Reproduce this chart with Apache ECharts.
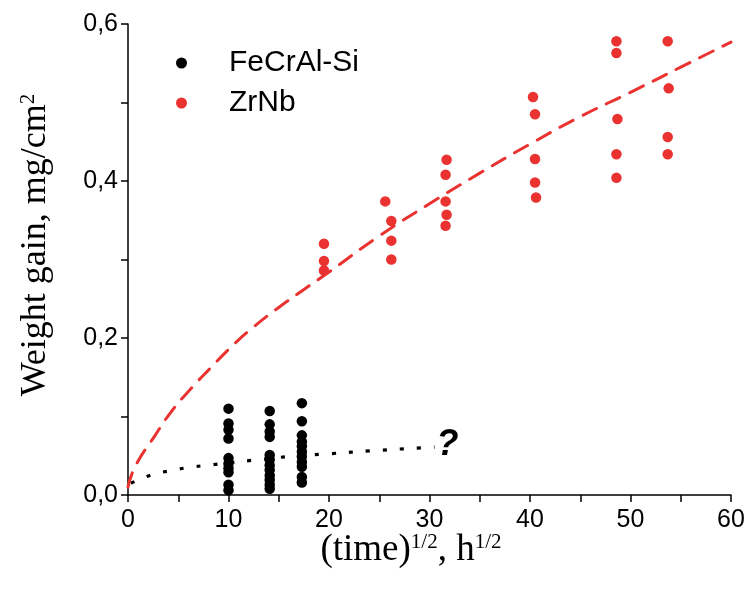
<!DOCTYPE html>
<html>
<head>
<meta charset="utf-8">
<title>Weight gain vs square root of time</title>
<script src="https://cdn.jsdelivr.net/npm/echarts@6/dist/echarts.min.js"></script>
<style>
  html, body { margin: 0; padding: 0; background: #ffffff; }
  #chart { width: 749px; height: 589px; }
</style>
</head>
<body>
<div id="chart"></div>
<script>
// Square root of exposure time (h^1/2) and weight gain (mg/cm^2)
const feCrAlTime = [
  10, 10, 10, 10, 10, 10, 10, 10, 10, 10,
  14.1, 14.1, 14.1, 14.1, 14.1, 14.1, 14.1, 14.1, 14.1, 14.1, 14.1, 14.1,
  17.3, 17.3, 17.3, 17.3, 17.3, 17.3, 17.3, 17.3, 17.3, 17.3, 17.3
];
const feCrAlGain = [
  0.110, 0.091, 0.083, 0.072, 0.047, 0.040, 0.034, 0.029, 0.013, 0.006,
  0.107, 0.090, 0.081, 0.074, 0.051, 0.045, 0.038, 0.032, 0.025, 0.019, 0.013, 0.008,
  0.117, 0.094, 0.076, 0.068, 0.062, 0.055, 0.049, 0.042, 0.036, 0.023, 0.016
];

const zrNbTime = [
  19.5, 19.5, 19.5,
  25.6,
  26.2, 26.2, 26.2,
  31.7, 31.6, 31.6, 31.7, 31.6,
  40.3, 40.5, 40.5, 40.5, 40.6,
  48.6, 48.6, 48.7, 48.6, 48.6,
  53.7, 53.8, 53.7, 53.7
];
const zrNbGain = [
  0.320, 0.298, 0.286,
  0.374,
  0.349, 0.324, 0.300,
  0.427, 0.408, 0.374, 0.357, 0.343,
  0.507, 0.485, 0.428, 0.398, 0.379,
  0.578, 0.563, 0.479, 0.434, 0.404,
  0.578, 0.518, 0.456, 0.434
];

// Trend curves
const zrNbTrendTime = [0, 0.7, 2.7, 4.3, 6.3, 8.3, 10.3, 12.3, 14.8, 17.3, 20, 25, 30, 35, 40, 45, 50, 55, 60];
const zrNbTrendGain = [0.010, 0.036, 0.076, 0.106, 0.136, 0.163, 0.189, 0.212, 0.237, 0.260, 0.284, 0.330, 0.371, 0.410, 0.447, 0.482, 0.513, 0.545, 0.577];

const feCrAlTrendTime = [0.3, 1, 2.7, 4.3, 6, 8, 10, 13, 16, 19.4, 25, 30.5];
const feCrAlTrendGain = [0.015, 0.019, 0.027, 0.031, 0.035, 0.038, 0.041, 0.045, 0.049, 0.052, 0.057, 0.061];

const seriesNames = ['FeCrAl-Si', 'ZrNb'];
const RED = '#ea3331';

const zip = (xs, ys) => xs.map((x, i) => [x, ys[i]]);

const chart = echarts.init(document.getElementById('chart'), null, { renderer: 'canvas' });

const supStyle = { fontFamily: 'Liberation Serif', fontSize: 21, color: '#000', verticalAlign: 'top', lineHeight: 22 };

chart.setOption({
  animation: false,
  backgroundColor: '#ffffff',
  grid: { left: 128, right: 18, top: 24, bottom: 94 },
  legend: {
    orient: 'vertical',
    left: 171,
    top: 42,
    itemWidth: 11,
    itemHeight: 11,
    itemGap: 8,
    icon: 'circle',
    data: seriesNames,
    textStyle: {
      fontFamily: 'Liberation Sans',
      fontSize: 30,
      color: '#000',
      lineHeight: 32,
      padding: [0, 0, 0, 37]
    }
  },
  xAxis: {
    type: 'value',
    min: 0,
    max: 60,
    interval: 5,
    splitLine: { show: false },
    axisLine: { show: true, onZero: false, lineStyle: { color: '#000', width: 1.5 } },
    axisTick: { show: true, inside: false, length: 7, lineStyle: { color: '#000', width: 1.5 } },
    axisLabel: {
      margin: 13,
      fontFamily: 'Liberation Sans',
      fontSize: 25,
      color: '#000',
      formatter: v => (v % 10 === 0 ? String(v) : '')
    },
    name: '(time){sup|1/2}, h{sup|1/2}',
    nameLocation: 'middle',
    nameGap: 37,
    nameMoveOverlap: false,
    nameTextStyle: {
      fontFamily: 'Liberation Serif',
      fontSize: 37,
      color: '#000',
      padding: [0, 37, 0, 0],
      rich: { sup: supStyle }
    }
  },
  yAxis: {
    type: 'value',
    min: 0,
    max: 0.6,
    interval: 0.1,
    splitLine: { show: false },
    axisLine: { show: true, lineStyle: { color: '#000', width: 1.5 } },
    axisTick: { show: true, inside: false, length: 7, lineStyle: { color: '#000', width: 1.5 } },
    axisLabel: {
      margin: 10,
      fontFamily: 'Liberation Sans',
      fontSize: 25,
      color: '#000',
      formatter: v => (Math.round(v * 10) % 2 === 0 ? v.toFixed(1).replace('.', ',') : '')
    },
    name: 'Weight gain, mg/cm{sup|2}',
    nameLocation: 'middle',
    nameRotate: 90,
    nameGap: 74,
    nameMoveOverlap: false,
    nameTextStyle: {
      fontFamily: 'Liberation Serif',
      fontSize: 36,
      color: '#000',
      padding: [0, 0, 0, 29],
      rich: { sup: supStyle }
    }
  },
  series: [
    {
      type: 'line',
      data: zip(zrNbTrendTime, zrNbTrendGain),
      smooth: true,
      showSymbol: false,
      silent: true,
      lineStyle: { color: RED, width: 3, type: [15, 11], cap: 'round' },
      z: 1
    },
    {
      type: 'line',
      data: zip(feCrAlTrendTime, feCrAlTrendGain),
      smooth: true,
      showSymbol: false,
      silent: true,
      lineStyle: { color: '#000', width: 3.2, type: [4, 13], cap: 'butt' },
      endLabel: {
        show: true,
        formatter: '?',
        distance: 2,
        offset: [0, -2],
        fontFamily: 'Liberation Sans',
        fontSize: 36,
        fontWeight: 'bold',
        fontStyle: 'italic',
        color: '#000'
      },
      z: 1
    },
    {
      name: seriesNames[0],
      type: 'scatter',
      data: zip(feCrAlTime, feCrAlGain),
      symbol: 'circle',
      symbolSize: 10.5,
      itemStyle: { color: '#000', opacity: 1 },
      z: 3
    },
    {
      name: seriesNames[1],
      type: 'scatter',
      data: zip(zrNbTime, zrNbGain),
      symbol: 'circle',
      symbolSize: 10.5,
      itemStyle: { color: RED, opacity: 1 },
      z: 3
    }
  ]
});
</script>
</body>
</html>
